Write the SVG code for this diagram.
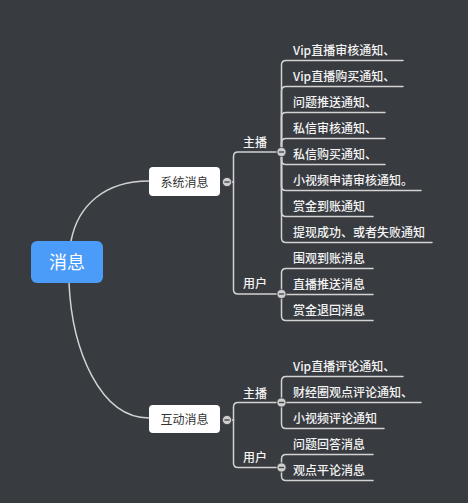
<svg xmlns="http://www.w3.org/2000/svg" width="468" height="503" viewBox="0 0 468 503">
<style>
text{font-family:"Noto Sans CJK SC","Microsoft YaHei","Noto Sans",sans-serif}
.ln{fill:none;stroke:#d2d2d2;stroke-width:1.5;stroke-linecap:round}
.leaf{font-size:12px;fill:#f4f4f4;font-weight:500}
.lbl{font-size:12px;fill:#f4f4f4;font-weight:500}
.sub rect{fill:#ffffff}
.sub text{font-size:12px;fill:#333333;text-anchor:middle}
</style>
<defs>
<g id="tog"><circle cx="0" cy="0" r="4.6" fill="#cfcfcf" stroke="#3a3d42" stroke-width="0.8"/><line x1="-2.6" y1="0" x2="2.6" y2="0" stroke="#4a4a4a" stroke-width="1.4"/></g>
</defs>
<rect x="0" y="0" width="468" height="503" fill="#383b40"/>
<g id="connectors">
<path class="ln" d="M71,241 C78,205 105,181 149,181"/>
<path class="ln" d="M69,283 C72,350 100,418 149,418"/>
<path class="ln" d="M227,182 H233.5"/>
<path class="ln" d="M233.5,182 V156.5 Q233.5,152 238,152 H281.5"/>
<path class="ln" d="M233.5,182 V289.5 Q233.5,294 238,294 H281.5"/>
<path class="ln" d="M227,420 H233.5"/>
<path class="ln" d="M233.5,420 V407 Q233.5,402.5 238,402.5 H281.5"/>
<path class="ln" d="M233.5,420 V463 Q233.5,467.5 238,467.5 H281.5"/>
<path class="ln" d="M281.5,152 V65 Q281.5,60.5 286,60.5 H403"/>
<path class="ln" d="M281.5,152 V91 Q281.5,86.5 286,86.5 H403"/>
<path class="ln" d="M281.5,152 V117 Q281.5,112.5 286,112.5 H385"/>
<path class="ln" d="M281.5,152 V143 Q281.5,138.5 286,138.5 H385"/>
<path class="ln" d="M281.5,152 V160 Q281.5,164.5 286,164.5 H385"/>
<path class="ln" d="M281.5,152 V186 Q281.5,190.5 286,190.5 H421"/>
<path class="ln" d="M281.5,152 V212 Q281.5,216.5 286,216.5 H373"/>
<path class="ln" d="M281.5,152 V238 Q281.5,242.5 286,242.5 H432"/>
<path class="ln" d="M281.5,294 V273 Q281.5,268.5 286,268.5 H373"/>
<path class="ln" d="M281.5,294.5 H373"/>
<path class="ln" d="M281.5,294 V316 Q281.5,320.5 286,320.5 H373"/>
<path class="ln" d="M281.5,402.5 V381 Q281.5,376.5 286,376.5 H403"/>
<path class="ln" d="M281.5,402.5 H421"/>
<path class="ln" d="M281.5,402.5 V424 Q281.5,428.5 286,428.5 H384"/>
<path class="ln" d="M281.5,467.5 V459 Q281.5,454.5 286,454.5 H373"/>
<path class="ln" d="M281.5,467.5 V476 Q281.5,480.5 286,480.5 H373"/>
</g>
<g id="root">
<rect x="31" y="241" width="72" height="42" rx="6" fill="#4b9bf8"/>
<text x="67" y="269" font-size="18" fill="#ffffff" text-anchor="middle">消息</text>
</g>
<g id="n-xitong" class="sub">
<rect x="149" y="167" width="71" height="29" rx="4"/>
<text x="184.5" y="187">系统消息</text>
</g>
<g id="n-hudong" class="sub">
<rect x="149" y="405" width="71" height="28" rx="4"/>
<text x="184.5" y="424">互动消息</text>
</g>
<g id="n-xt-zhubo"><text class="lbl" x="243" y="147">主播</text></g>
<g id="n-xt-yonghu"><text class="lbl" x="243" y="288">用户</text></g>
<g id="n-hd-zhubo"><text class="lbl" x="243" y="397.5">主播</text></g>
<g id="n-hd-yonghu"><text class="lbl" x="243" y="461.5">用户</text></g>
<g id="n-xt-zb-1"><text class="leaf" x="293" y="54.5">Vip直播审核通知、</text></g>
<g id="n-xt-zb-2"><text class="leaf" x="293" y="80.5">Vip直播购买通知、</text></g>
<g id="n-xt-zb-3"><text class="leaf" x="293" y="106.5">问题推送通知、</text></g>
<g id="n-xt-zb-4"><text class="leaf" x="293" y="132.5">私信审核通知、</text></g>
<g id="n-xt-zb-5"><text class="leaf" x="293" y="158.5">私信购买通知、</text></g>
<g id="n-xt-zb-6"><text class="leaf" x="293" y="184.5">小视频申请审核通知。</text></g>
<g id="n-xt-zb-7"><text class="leaf" x="293" y="210.5">赏金到账通知</text></g>
<g id="n-xt-zb-8"><text class="leaf" x="293" y="236.5">提现成功、或者失败通知</text></g>
<g id="n-xt-yh-1"><text class="leaf" x="293" y="262.5">围观到账消息</text></g>
<g id="n-xt-yh-2"><text class="leaf" x="293" y="288.5">直播推送消息</text></g>
<g id="n-xt-yh-3"><text class="leaf" x="293" y="314.5">赏金退回消息</text></g>
<g id="n-hd-zb-1"><text class="leaf" x="293" y="370.5">Vip直播评论通知、</text></g>
<g id="n-hd-zb-2"><text class="leaf" x="293" y="396.5">财经圈观点评论通知、</text></g>
<g id="n-hd-zb-3"><text class="leaf" x="293" y="422.5">小视频评论通知</text></g>
<g id="n-hd-yh-1"><text class="leaf" x="293" y="448.5">问题回答消息</text></g>
<g id="n-hd-yh-2"><text class="leaf" x="293" y="474.5">观点平论消息</text></g>
<g id="toggles">
<use href="#tog" x="227" y="182"/>
<use href="#tog" x="227" y="420"/>
<use href="#tog" x="281.5" y="152"/>
<use href="#tog" x="281.5" y="294"/>
<use href="#tog" x="281.5" y="402.5"/>
<use href="#tog" x="281.5" y="467.5"/>
</g>
</svg>
